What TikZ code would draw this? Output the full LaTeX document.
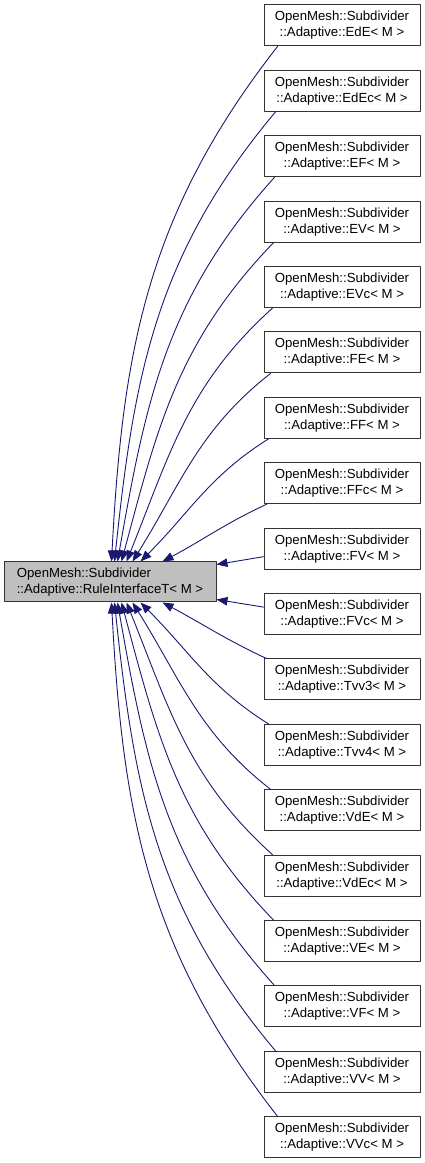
\documentclass[tikz,border=0pt]{standalone}
\usepackage{fontspec}
\setmainfont{Liberation Sans}
\usetikzlibrary{arrows.meta}
\definecolor{edgeblue}{rgb}{0.1,0.1,0.44}
\definecolor{basegray}{rgb}{0.75,0.75,0.75}

\begin{document}
\begin{tikzpicture}[x=1pt,y=1pt,line cap=round,line join=round,>={Triangle[length=11pt,width=8.5pt]},
  every node/.style={font=\fontsize{13.2}{16}\selectfont},
  baseclass/.style={draw=black!80,fill=basegray,line width=1pt,minimum width=212pt,minimum height=40pt,inner sep=0pt,align=left},
  derived/.style={draw=black!80,line width=1pt,minimum width=156pt,minimum height=41pt,inner sep=0pt,align=center},
  inherit/.style={draw=edgeblue,fill=none,line width=0.9pt}]
  \useasboundingbox (0,0) rectangle (425,1163);
  % base class
  \node[baseclass] (base) at (110,581) {OpenMesh::Subdivider\\::Adaptive::RuleInterfaceT< M >};
  % derived rules
  \foreach \cls [count=\i from 0] in {EdE,EdEc,EF,EV,EVc,FE,FF,FFc,FV,FVc,Tvv3,Tvv4,VdE,VdEc,VE,VF,VV,VVc}
    \node[derived] (d\i) at (342,{1137.5-65.4*\i}) {OpenMesh::Subdivider\\::Adaptive::\cls< M >};
  % upper edges
  \foreach \i/\tx/\out/\in/\sx in {0/108/87/232/14,1/111/84/230/12,2/114/80/228/11,3/118/75/226/10,
      4/123/68/222/9,5/129/58/218/7,6/137/45/212/5,7/159/28/205/3}
    \draw[inherit,<-] ([xshift=\tx pt]base.north west) to[out=\out,in=\in] ([xshift=\sx pt]d\i.south west);
  % lower edges
  \foreach \i/\tx/\out/\in/\sx in {17/108/-87/128/14,16/111/-84/130/12,15/114/-80/132/11,14/118/-75/134/10,
      13/123/-68/138/9,12/129/-58/142/7,11/137/-45/148/5,10/159/-28/155/3}
    \draw[inherit,<-] ([xshift=\tx pt]base.south west) to[out=\out,in=\in] ([xshift=\sx pt]d\i.north west);
  % middle edges
  \draw[inherit,<-] ([yshift=-3pt]base.north east) -- ([yshift=-8pt]d8.west);
  \draw[inherit,<-] ([yshift=3pt]base.south east) -- ([yshift=7pt]d9.west);
\end{tikzpicture}
\end{document}
